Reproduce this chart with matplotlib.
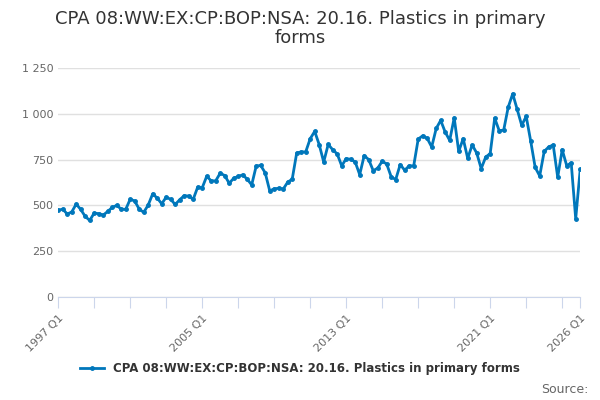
import matplotlib.pyplot as plt
from matplotlib.ticker import FuncFormatter

values = [
    473, 480, 453, 464, 507, 478, 440, 418, 458, 455, 447, 467,
    489, 500, 480, 478, 534, 524, 480, 462, 502, 563, 540, 509,
    545, 533, 505, 531, 553, 551, 533, 600, 596, 659, 634, 634,
    676, 663, 621, 648, 658, 667, 643, 612, 715, 718, 678, 580,
    590, 594, 589, 627, 643, 786, 792, 792, 864, 904, 832, 737,
    833, 804, 781, 716, 755, 752, 737, 668, 772, 750, 690, 703,
    741, 726, 656, 641, 723, 692, 716, 716, 862, 880, 866, 819,
    920, 964, 900, 855, 978, 795, 864, 757, 830, 786, 701, 764,
    783, 976, 908, 911, 1036, 1109, 1024, 937, 986, 851, 707, 661,
    795, 819, 830, 654, 804, 717, 732, 427, 696,
]
tick_pos = list(range(0, 117, 8)) + [116]
tick_labels = {0: "1997 Q1", 32: "2005 Q1", 64: "2013 Q1", 96: "2021 Q1", 116: "2026 Q1"}
title = "CPA 08:WW:EX:CP:BOP:NSA: 20.16. Plastics in primary forms"

fig = plt.figure(figsize=(6, 4), dpi=100)
ax = fig.add_axes([0.097, 0.2575, 0.87, 0.5725])
x = list(range(len(values)))
ax.plot(x, values, color="#0077bb", lw=2, marker="o", ms=2.5, label=title)

ax.set_xlim(0, 116)
ax.set_ylim(0, 1250)
ax.set_yticks([0, 250, 500, 750, 1000, 1250])
ax.yaxis.set_major_formatter(FuncFormatter(lambda v, p: f"{int(v):,}".replace(",", " ")))
ax.set_xticks(tick_pos)
ax.set_xticklabels([tick_labels.get(t, "") for t in tick_pos], rotation=45, ha="right",
                   rotation_mode="anchor")
ax.grid(axis="y", color="#e0e0e0", lw=1)
ax.set_axisbelow(True)
for s in ["top", "right", "left"]:
    ax.spines[s].set_visible(False)
ax.spines["bottom"].set_color("#ccd6eb")
ax.tick_params(axis="y", length=0, labelsize=8, colors="#666666")
ax.tick_params(axis="x", length=8, color="#ccd6eb", labelsize=8, labelcolor="#666666")

fig.text(0.5, 0.975, "CPA 08:WW:EX:CP:BOP:NSA: 20.16. Plastics in primary\nforms",
         ha="center", va="top", fontsize=13, color="#333333", linespacing=1.1)
fig.legend(loc="lower center", bbox_to_anchor=(0.5, 0.035), frameon=False,
           prop={"size": 8.5, "weight": "bold"}, labelcolor="#333333", handlelength=2)
fig.text(0.98, 0.01, "Source:", ha="right", va="bottom", fontsize=9, color="#666666")
fig.savefig("out.png")
